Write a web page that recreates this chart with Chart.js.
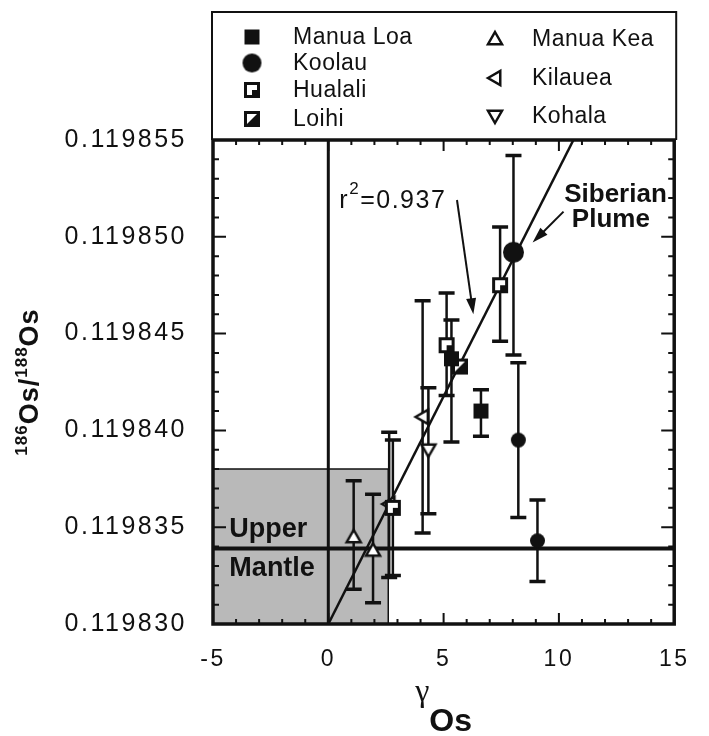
<!DOCTYPE html>
<html>
<head>
<meta charset="utf-8">
<script src="https://cdn.jsdelivr.net/npm/chart.js@4.4.1/dist/chart.umd.min.js"></script>
<style>
  html, body { margin: 0; padding: 0; background: #fff; }
  #wrap { width: 709px; height: 736px; }
</style>
</head>
<body>
<div id="wrap"><canvas id="osChart" width="709" height="736"></canvas></div>
<script>
// tick labels
const xTicks = [-5, 0, 5, 10, 15];
const yTicks = [0.119830, 0.119835, 0.119840, 0.119845, 0.119850, 0.119855];

// gamma Os / 186Os/188Os per volcano, with error bar ends
const manuaLoaX = [5.34, 6.62];
const manuaLoaY = [0.1198437, 0.1198410];
const manuaLoaHi = [0.1198457, 0.1198421];
const manuaLoaLo = [0.1198394, 0.1198397];

const koolauX = [8.03, 8.24, 9.07];
const koolauY = [0.1198492, 0.1198395, 0.1198343];
const koolauHi = [0.1198542, 0.1198435, 0.1198364];
const koolauLo = [0.1198439, 0.1198355, 0.1198322];

const hualalaiX = [5.13, 7.45, 2.80];
const hualalaiY = [0.1198444, 0.1198475, 0.1198360];
const hualalaiHi = [0.1198471, 0.1198505, 0.1198395];
const hualalaiLo = [0.1198418, 0.1198446, 0.1198325];

const loihiX = [5.71];
const loihiY = [0.1198433];
const loihiHi = [null];
const loihiLo = [null];

const manuaKeaX = [1.10, 1.94];
const manuaKeaY = [0.1198345, 0.1198338];
const manuaKeaHi = [0.1198374, 0.1198367];
const manuaKeaLo = [0.1198318, 0.1198311];

const kilaueaX = [4.09, 2.64];
const kilaueaY = [0.1198407, 0.1198362];
const kilaueaHi = [0.1198467, 0.1198399];
const kilaueaLo = [0.1198347, 0.1198324];

const kohalaX = [4.34];
const kohalaY = [0.1198390];
const kohalaHi = [0.1198422];
const kohalaLo = [0.1198357];

// regression line ends, upper mantle box and line
const fitX = [0, 10.63];
const fitY = [0.119830, 0.119855];
const mantleBoxX = [-5, 2.6, 2.6];
const mantleBoxY = [0.119838, 0.119838, 0.119830];
const mantleLineX = [-5, 15];
const mantleLineY = [0.1198339, 0.1198339];
const zeroLineX = [0, 0];
const zeroLineY = [0.119830, 0.119855];

const ink = '#111';
const SANS = '"Liberation Sans", Arial, sans-serif';

function pts(xs, ys) {
  return xs.map((x, i) => ({ x: x, y: ys[i] }));
}

// small canvases used as point styles (and in the legend)
function makeMarker(kind, s) {
  const pad = 3;
  const c = document.createElement('canvas');
  c.width = c.height = Math.ceil(s + pad * 2);
  const g = c.getContext('2d');
  const h = s / 2;
  g.translate(c.width / 2, c.height / 2);
  g.fillStyle = ink;
  g.strokeStyle = ink;
  g.lineWidth = 2.5;
  g.lineJoin = 'miter';
  if (kind === 'square') {
    g.fillRect(-h, -h, s, s);
  } else if (kind === 'circle') {
    g.beginPath();
    g.arc(0, 0, h, 0, Math.PI * 2);
    g.fill();
  } else if (kind === 'hualalai') {
    g.fillRect(-h, -h, s, s);
    g.fillStyle = '#fff';
    g.fillRect(-h + 3, -h + 3, s - 6, s - 6);
    g.fillStyle = ink;
    g.fillRect(0, 0, h - 3, h - 3);
  } else if (kind === 'loihi') {
    g.fillRect(-h, -h, s, s);
    g.fillStyle = '#fff';
    g.beginPath();
    g.moveTo(-h + 3, -h + 3);
    g.lineTo(h - 3, -h + 3);
    g.lineTo(-h + 3, h - 3);
    g.closePath();
    g.fill();
  } else {
    g.fillStyle = '#fff';
    g.beginPath();
    if (kind === 'up') {
      g.moveTo(0, -h); g.lineTo(h, h * 0.75); g.lineTo(-h, h * 0.75);
    } else if (kind === 'down') {
      g.moveTo(0, h); g.lineTo(h, -h * 0.75); g.lineTo(-h, -h * 0.75);
    } else {
      g.moveTo(-h, 0); g.lineTo(h * 0.75, -h); g.lineTo(h * 0.75, h);
    }
    g.closePath();
    g.fill();
    g.stroke();
  }
  return c;
}

const mk = {
  manuaLoa: makeMarker('square', 15),
  koolauBig: makeMarker('circle', 21),
  koolau: makeMarker('circle', 15),
  koolauLegend: makeMarker('circle', 19),
  hualalai: makeMarker('hualalai', 16),
  loihi: makeMarker('loihi', 16),
  manuaKea: makeMarker('up', 14),
  kilauea: makeMarker('left', 14),
  kohala: makeMarker('down', 14)
};

function volcano(label, xs, ys, hi, lo, style) {
  return {
    type: 'scatter',
    label: label,
    data: pts(xs, ys),
    errHi: hi,
    errLo: lo,
    pointStyle: style,
    pointRadius: 8,
    order: 1
  };
}

function arrow(ctx, x1, y1, x2, y2) {
  const a = Math.atan2(y2 - y1, x2 - x1);
  const c = Math.cos(a), s = Math.sin(a);
  ctx.lineWidth = 2;
  ctx.beginPath();
  ctx.moveTo(x1, y1);
  ctx.lineTo(x2 - 10 * c, y2 - 10 * s);
  ctx.stroke();
  ctx.beginPath();
  ctx.moveTo(x2, y2);
  ctx.lineTo(x2 - 16 * c + 5 * s, y2 - 16 * s - 5 * c);
  ctx.lineTo(x2 - 16 * c - 5 * s, y2 - 16 * s + 5 * c);
  ctx.closePath();
  ctx.fill();
}

// draws pieces of text one after another, centred on x
function richText(ctx, parts, x, y) {
  let total = 0;
  parts.forEach(p => { ctx.font = p.font; p.w = ctx.measureText(p.t).width; total += p.w; });
  let cx = x - total / 2;
  parts.forEach(p => {
    ctx.font = p.font;
    ctx.fillText(p.t, cx, y + (p.dy || 0));
    cx += p.w;
  });
}

const decor = {
  id: 'decor',
  beforeDraw(chart) {
    chart.ctx.letterSpacing = '2.5px';
  },
  beforeDatasetsDraw(chart) {
    chart.ctx.letterSpacing = '0px';
  },
  beforeDatasetDraw(chart, args) {
    // error bars go under the fit line and the markers
    if (chart.data.datasets[args.index].id !== 'fit') return;
    const { ctx, scales: { x, y } } = chart;
    ctx.save();
    ctx.strokeStyle = ink;
    chart.data.datasets.forEach(ds => {
      if (!ds.errHi) return;
      ds.data.forEach((p, i) => {
        if (ds.errHi[i] == null) return;
        const px = x.getPixelForValue(p.x);
        const y1 = y.getPixelForValue(ds.errHi[i]);
        const y2 = y.getPixelForValue(ds.errLo[i]);
        ctx.lineWidth = 2.5;
        ctx.beginPath();
        ctx.moveTo(px, y1);
        ctx.lineTo(px, y2);
        ctx.stroke();
        ctx.lineWidth = 3.5;
        ctx.beginPath();
        ctx.moveTo(px - 8, y1); ctx.lineTo(px + 8, y1);
        ctx.moveTo(px - 8, y2); ctx.lineTo(px + 8, y2);
        ctx.stroke();
      });
    });
    ctx.restore();
  },
  afterDatasetsDraw(chart) {
    const { ctx, chartArea: a, scales: { x, y } } = chart;
    ctx.save();
    ctx.strokeStyle = ink;
    ctx.fillStyle = ink;

    // inward tick marks on all four sides
    ctx.lineWidth = 2;
    ctx.beginPath();
    for (let v = -5; v <= 15; v++) {
      const px = x.getPixelForValue(v);
      const len = xTicks.includes(v) ? 11 : 5;
      ctx.moveTo(px, a.bottom); ctx.lineTo(px, a.bottom - len);
      ctx.moveTo(px, a.top); ctx.lineTo(px, a.top + len);
    }
    for (let k = 0; k <= 25; k++) {
      const py = y.getPixelForValue(0.119830 + k * 1e-6);
      const len = k % 5 === 0 ? 13 : 6;
      ctx.moveTo(a.left, py); ctx.lineTo(a.left + len, py);
      ctx.moveTo(a.right, py); ctx.lineTo(a.right - len, py);
    }
    ctx.stroke();

    // frame
    ctx.lineWidth = 3.5;
    ctx.strokeRect(a.left, a.top, a.right - a.left, a.bottom - a.top);

    // annotations
    ctx.textBaseline = 'alphabetic';
    ctx.textAlign = 'left';
    ctx.letterSpacing = '1.5px';
    let px = x.getPixelForValue(0.48), py = y.getPixelForValue(0.1198515);
    ctx.font = '25px ' + SANS;
    ctx.fillText('r', px, py);
    px += ctx.measureText('r').width;
    ctx.font = '17px ' + SANS;
    ctx.fillText('2', px, py - 14);
    px += ctx.measureText('2').width;
    ctx.font = '25px ' + SANS;
    ctx.fillText('=0.937', px, py);
    ctx.letterSpacing = '0px';
    arrow(ctx, x.getPixelForValue(5.58), y.getPixelForValue(0.1198519),
      x.getPixelForValue(6.29), y.getPixelForValue(0.1198460));

    ctx.font = 'bold 26px ' + SANS;
    ctx.fillText('Siberian', x.getPixelForValue(10.23), y.getPixelForValue(0.1198518));
    ctx.fillText('Plume', x.getPixelForValue(10.56), y.getPixelForValue(0.1198505));
    arrow(ctx, x.getPixelForValue(10.2), y.getPixelForValue(0.1198513),
      x.getPixelForValue(8.86), y.getPixelForValue(0.1198497));

    ctx.font = 'bold 27px ' + SANS;
    ctx.fillText('Upper', x.getPixelForValue(-4.29), y.getPixelForValue(0.1198345));
    ctx.fillText('Mantle', x.getPixelForValue(-4.29), y.getPixelForValue(0.1198325));

    // legend box above the plot
    const lt = 12;
    ctx.lineWidth = 2;
    ctx.beginPath();
    ctx.moveTo(a.left - 1, a.top);
    ctx.lineTo(a.left - 1, lt);
    ctx.lineTo(a.right + 2, lt);
    ctx.lineTo(a.right + 2, a.top);
    ctx.stroke();
    const legend = [
      [mk.manuaLoa, 'Manua Loa', 252, 293, 37],
      [mk.koolauLegend, 'Koolau', 252, 293, 63],
      [mk.hualalai, 'Hualali', 252, 293, 90],
      [mk.loihi, 'Loihi', 252, 293, 119],
      [mk.manuaKea, 'Manua Kea', 495, 532, 39],
      [mk.kilauea, 'Kilauea', 495, 532, 78],
      [mk.kohala, 'Kohala', 495, 532, 116]
    ];
    ctx.font = '23px ' + SANS;
    ctx.textBaseline = 'middle';
    ctx.letterSpacing = '0.5px';
    legend.forEach(([img, label, mx, tx, ty]) => {
      ctx.drawImage(img, mx - img.width / 2, ty - img.height / 2);
      ctx.fillText(label, tx, ty + 1);
    });

    // axis titles
    ctx.textBaseline = 'alphabetic';
    ctx.letterSpacing = '0px';
    const cx = (a.left + a.right) / 2;
    richText(ctx, [
      { t: 'γ', font: '32px "Liberation Serif", serif', dy: -30 },
      { t: 'Os', font: 'bold 32px ' + SANS }
    ], cx, 731);

    ctx.translate(38, (a.top + a.bottom) / 2);
    ctx.rotate(-Math.PI / 2);
    ctx.letterSpacing = '1px';
    richText(ctx, [
      { t: '186', font: 'bold 17px ' + SANS, dy: -11 },
      { t: 'Os/', font: 'bold 27px ' + SANS },
      { t: '188', font: 'bold 17px ' + SANS, dy: -11 },
      { t: 'Os', font: 'bold 27px ' + SANS }
    ], 0, 0);
    ctx.restore();
  }
};

new Chart(document.getElementById('osChart'), {
  type: 'scatter',
  data: {
    datasets: [
      volcano('Manua Loa', manuaLoaX, manuaLoaY, manuaLoaHi, manuaLoaLo, mk.manuaLoa),
      volcano('Koolau', koolauX, koolauY, koolauHi, koolauLo, [mk.koolauBig, mk.koolau, mk.koolau]),
      volcano('Hualali', hualalaiX, hualalaiY, hualalaiHi, hualalaiLo, mk.hualalai),
      volcano('Loihi', loihiX, loihiY, loihiHi, loihiLo, mk.loihi),
      volcano('Manua Kea', manuaKeaX, manuaKeaY, manuaKeaHi, manuaKeaLo, mk.manuaKea),
      volcano('Kilauea', kilaueaX, kilaueaY, kilaueaHi, kilaueaLo, mk.kilauea),
      volcano('Kohala', kohalaX, kohalaY, kohalaHi, kohalaLo, mk.kohala),
      {
        id: 'fit', type: 'line', data: pts(fitX, fitY),
        borderColor: ink, borderWidth: 2.5, pointRadius: 0, fill: false, order: 10
      },
      {
        type: 'line', data: pts(zeroLineX, zeroLineY),
        borderColor: ink, borderWidth: 3, pointRadius: 0, fill: false, order: 20
      },
      {
        type: 'line', data: pts(mantleLineX, mantleLineY),
        borderColor: ink, borderWidth: 4, pointRadius: 0, fill: false, order: 20
      },
      {
        type: 'line', data: pts(mantleBoxX, mantleBoxY),
        borderColor: ink, borderWidth: 1.5, pointRadius: 0,
        backgroundColor: '#b9b9b9', fill: 'start', order: 30
      }
    ]
  },
  options: {
    responsive: false,
    animation: false,
    layout: { padding: { top: 140, right: 14, left: 0, bottom: 0 } },
    plugins: { legend: { display: false }, tooltip: { enabled: false } },
    scales: {
      x: {
        type: 'linear', min: -5, max: 15,
        grid: { display: false, drawTicks: false },
        border: { display: false },
        afterBuildTicks: s => { s.ticks = xTicks.map(v => ({ value: v })); },
        afterFit: s => { s.height = 112; },
        ticks: { color: ink, padding: 22, font: { family: SANS, size: 23 }, callback: v => String(v) }
      },
      y: {
        type: 'linear', min: 0.119830, max: 0.119855,
        grid: { display: false, drawTicks: false },
        border: { display: false },
        afterBuildTicks: s => { s.ticks = yTicks.map(v => ({ value: v })); },
        afterFit: s => { s.width = 213; },
        ticks: { color: ink, padding: 26, font: { family: SANS, size: 25 }, callback: v => v.toFixed(6) }
      }
    }
  },
  plugins: [decor]
});
</script>
</body>
</html>
